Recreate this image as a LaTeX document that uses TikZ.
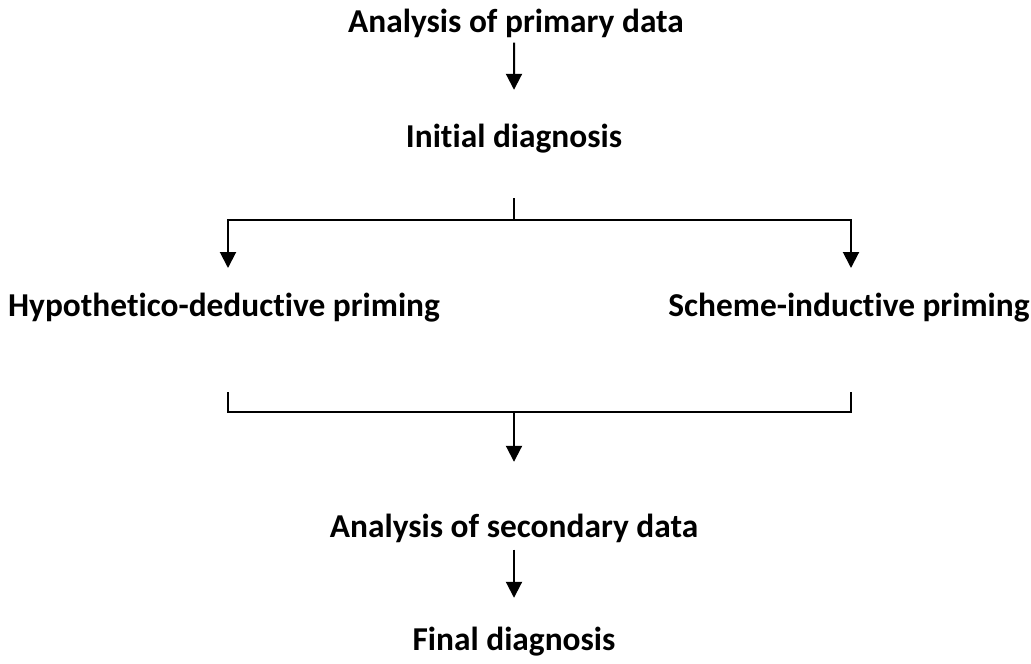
\documentclass[tikz,border=0pt]{standalone}
\usepackage{fontspec}
\setmainfont{Carlito}[RawFeature=-liga]
\usetikzlibrary{arrows.meta}
\tikzset{
step-text/.style={font=\bfseries\fontsize{19}{22}\selectfont,inner sep=0pt,text height=14.8pt,text depth=2.7pt,anchor=center},
line/.style={black,line width=0.04cm},
arrow/.style={line,-{Triangle[width=0.32cm,length=0.32cm]}}
}
\begin{document}
\begin{tikzpicture}[x=0.02cm,y=-0.02cm]
    \useasboundingbox (0,0) rectangle (1031,663);
    {
      \node[step-text](primary) at (516,22) {Analysis of primary data};
      \node[step-text](initial) at (514,137) {Initial diagnosis};
      \node[step-text](hypo) at (224,306) {Hypothetico-deductive priming};
      \node[step-text, anchor=east](scheme) at (1030,306) {Scheme-inductive priming};
      \node[step-text](secondary) at (514,527) {Analysis of secondary data};
      \node[step-text](final) at (514,640) {Final diagnosis};
      %
      \coordinate (split) at (514,220);
      \coordinate (hypo-in) at (228,268);
      \coordinate (scheme-in) at (851,268);
      \coordinate (hypo-out) at (228,392);
      \coordinate (scheme-out) at (851,392);
      \coordinate (merge) at (514,412);
      %
      \draw[arrow, shorten <=0.1cm, shorten >=0.63cm] ([xshift=-0.04cm]primary.south) -- (initial.north);
      \draw[line, shorten <=0.91cm] (initial.south) -- (split);
      \foreach \v in {hypo-in,scheme-in}
      \draw[arrow] (split) -| (\v);
      \draw[line] (hypo-out) |- (merge) -| (scheme-out);
      \draw[arrow, shorten >=0.99cm] (merge) -- (secondary.north);
      \draw[arrow, shorten <=0.14cm, shorten >=0.53cm] (secondary.south) -- (final.north);
    }
\end{tikzpicture}
\end{document}
